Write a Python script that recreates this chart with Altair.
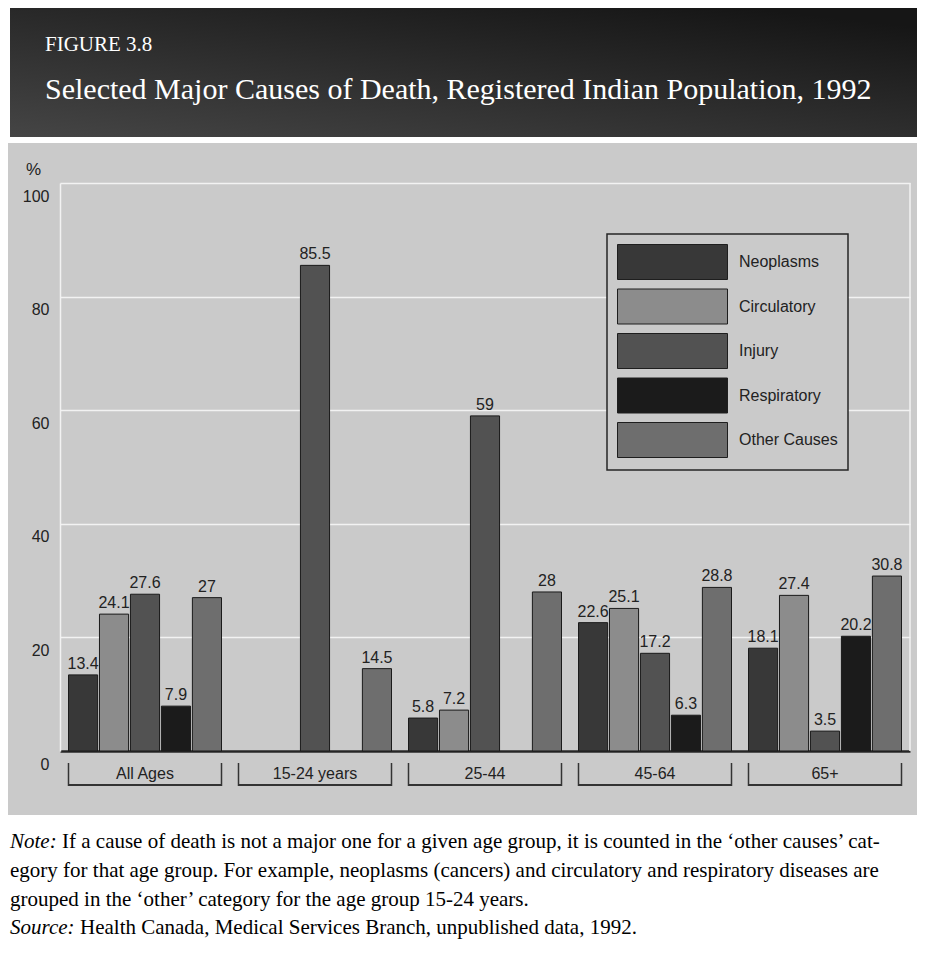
import altair as alt
import pandas as pd

# ---------------- data ----------------
groups = ["All Ages", "15-24 years", "25-44", "45-64", "65+"]
causes = ["Neoplasms", "Circulatory", "Injury", "Respiratory", "Other Causes"]
neoplasms = [13.4, None, 5.8, 22.6, 18.1]
circulatory = [24.1, None, 7.2, 25.1, 27.4]
injury = [27.6, 85.5, 59.0, 17.2, 3.5]
respiratory = [7.9, None, None, 6.3, 20.2]
other_causes = [27.0, 14.5, 28.0, 28.8, 30.8]
y_ticks = [0, 20, 40, 60, 80, 100]

figure_label = "FIGURE 3.8"
title_text = "Selected Major Causes of Death, Registered Indian Population, 1992"
note_lead = "Note:"
note_first = "If a cause of death is not a major one for a given age group, it is counted in the \u2018other causes\u2019 cat-"
note_rest = [
    "egory for that age group. For example, neoplasms (cancers) and circulatory and respiratory diseases are",
    "grouped in the \u2018other\u2019 category for the age group 15-24 years.",
]
source_lead = "Source:"
source_text = "Health Canada, Medical Services Branch, unpublished data, 1992."

# ---------------- styles ----------------
cause_colors = ["#383838", "#8c8c8c", "#525252", "#1b1b1b", "#6e6e6e"]
PANEL = "#cacaca"
INK = "#222222"
SANS = "Liberation Sans, Arial, sans-serif"
SERIF = "Liberation Serif, Times New Roman, serif"
W, H = 850, 568

series = dict(zip(causes, [neoplasms, circulatory, injury, respiratory, other_causes]))
rows = []
for c, vals in series.items():
    for g, v in zip(groups, vals):
        if v is not None:
            rows.append({"group": g, "cause": c, "value": v, "label": f"{v:g}"})
df = pd.DataFrame(rows)
gdf = pd.DataFrame({"group": groups})
one = pd.DataFrame({"k": [0]})

x_scale = alt.Scale(domain=groups, paddingInner=0.1, paddingOuter=0.05)
x_axis = alt.Axis(title=None, labelAngle=0, ticks=False, tickSize=0, labelPadding=22,
                  labelBaseline="middle", labelFontSize=16, labelFont=SANS, labelColor=INK,
                  domainColor="#262626", domainWidth=2.5, grid=False)


def xenc(**kw):
    return alt.X("group:N", sort=groups, scale=x_scale, axis=x_axis, **kw)


xoff = alt.XOffset("cause:N", sort=causes, scale=alt.Scale(domain=causes, paddingInner=0.06, paddingOuter=0))
y_enc = alt.Y(
    "value:Q",
    scale=alt.Scale(domain=[0, 100], nice=False),
    axis=alt.Axis(values=y_ticks, title="%", titleAngle=0, titleX=-27, titleY=-14,
                  titleAlign="center", titleBaseline="middle", titleFontSize=17,
                  titleFontWeight="normal", titleFont=SANS, titleColor=INK,
                  labelFontSize=16, labelFont=SANS, labelColor=INK, labelPadding=11,
                  labelOffset=13, ticks=False, tickSize=0,
                  domainColor="#f2f2f2", domainWidth=1.5, gridColor="#f2f2f2", gridWidth=1.5),
)

# decorations
white_top = alt.Chart(one).mark_rect(color="white").encode(
    x=alt.value(-60), x2=alt.value(W + 20), y=alt.value(-180), y2=alt.value(-40))
banner = alt.Chart(one).mark_rect(
    fill=alt.LinearGradient(gradient="linear",
                            stops=[alt.GradientStop(color="#454545", offset=0),
                                   alt.GradientStop(color="#161616", offset=1)],
                            x1=0, y1=1, x2=0.8, y2=0)
).encode(x=alt.value(-50), x2=alt.value(W + 20), y=alt.value(-175), y2=alt.value(-46))
white_bottom = alt.Chart(one).mark_rect(color="white").encode(
    x=alt.value(-60), x2=alt.value(W + 20), y=alt.value(632), y2=alt.value(H + 200))
right_edge = alt.Chart(one).mark_rule(color="#f2f2f2", strokeWidth=1.5).encode(
    x=alt.value(W), y=alt.value(0), y2=alt.value(H))

bars = alt.Chart(df).mark_bar(stroke="#1a1a1a", strokeWidth=1).encode(
    x=xenc(), xOffset=xoff, y=y_enc,
    color=alt.Color("cause:N", sort=causes,
                    scale=alt.Scale(domain=causes, range=cause_colors),
                    legend=alt.Legend(title=None, orient="none", legendX=547, legendY=51,
                                      symbolType="M-1,-1H5.286V1H-1Z", symbolSize=1225,
                                      symbolStrokeColor="#1e1e1e", symbolStrokeWidth=1,
                                      symbolOpacity=1, labelOffset=86, labelFontSize=16,
                                      labelFont=SANS, labelColor=INK, rowPadding=4.5,
                                      padding=10, fillColor=PANEL, strokeColor="#262626")),
)
labels = alt.Chart(df).mark_text(baseline="alphabetic", dy=-6, fontSize=16, font=SANS, color=INK).encode(
    x=xenc(), xOffset=xoff, y=y_enc, text="label:N")

br_h = alt.Chart(gdf).mark_bar(color="#333333").encode(x=xenc(), y=alt.value(601), y2=alt.value(603))
br_l = alt.Chart(gdf).mark_rule(color="#333333", strokeWidth=1.5).encode(
    x=xenc(bandPosition=0), y=alt.value(580), y2=alt.value(603))
br_r = alt.Chart(gdf).mark_rule(color="#333333", strokeWidth=1.5).encode(
    x=xenc(bandPosition=1), y=alt.value(580), y2=alt.value(603))


def text_layer(txt, x, y, size, font=SERIF, color="black", style="normal"):
    return alt.Chart(pd.DataFrame({"t": [txt]})).mark_text(
        align="left", baseline="middle", font=font, fontSize=size, color=color, fontStyle=style
    ).encode(x=alt.value(x), y=alt.value(y), text="t:N")


CAP = 21
texts = [
    text_layer(figure_label, -15, -138, 21, color="white"),
    text_layer(title_text, -15, -93, 30, color="white"),
    text_layer(note_lead, -50, 659, CAP, style="italic"),
    text_layer(note_first, 2, 659, CAP),
    text_layer(note_rest[0], -50, 688, CAP),
    text_layer(note_rest[1], -50, 717, CAP),
    text_layer(source_lead, -50, 745, CAP, style="italic"),
    text_layer(source_text, 20, 745, CAP),
]

chart = alt.layer(
    white_top, banner, white_bottom, right_edge, bars, labels, br_h, br_l, br_r, *texts
).properties(
    width=W, height=H,
    autosize=alt.AutoSizeParams(type="none"),
    padding={"left": 52, "top": 175, "right": 7, "bottom": 190},
).configure(background=PANEL).configure_view(stroke=None).configure_legend(strokeWidth=1.5)

chart.save("out.html", embed_options={"renderer": "svg", "actions": False})
